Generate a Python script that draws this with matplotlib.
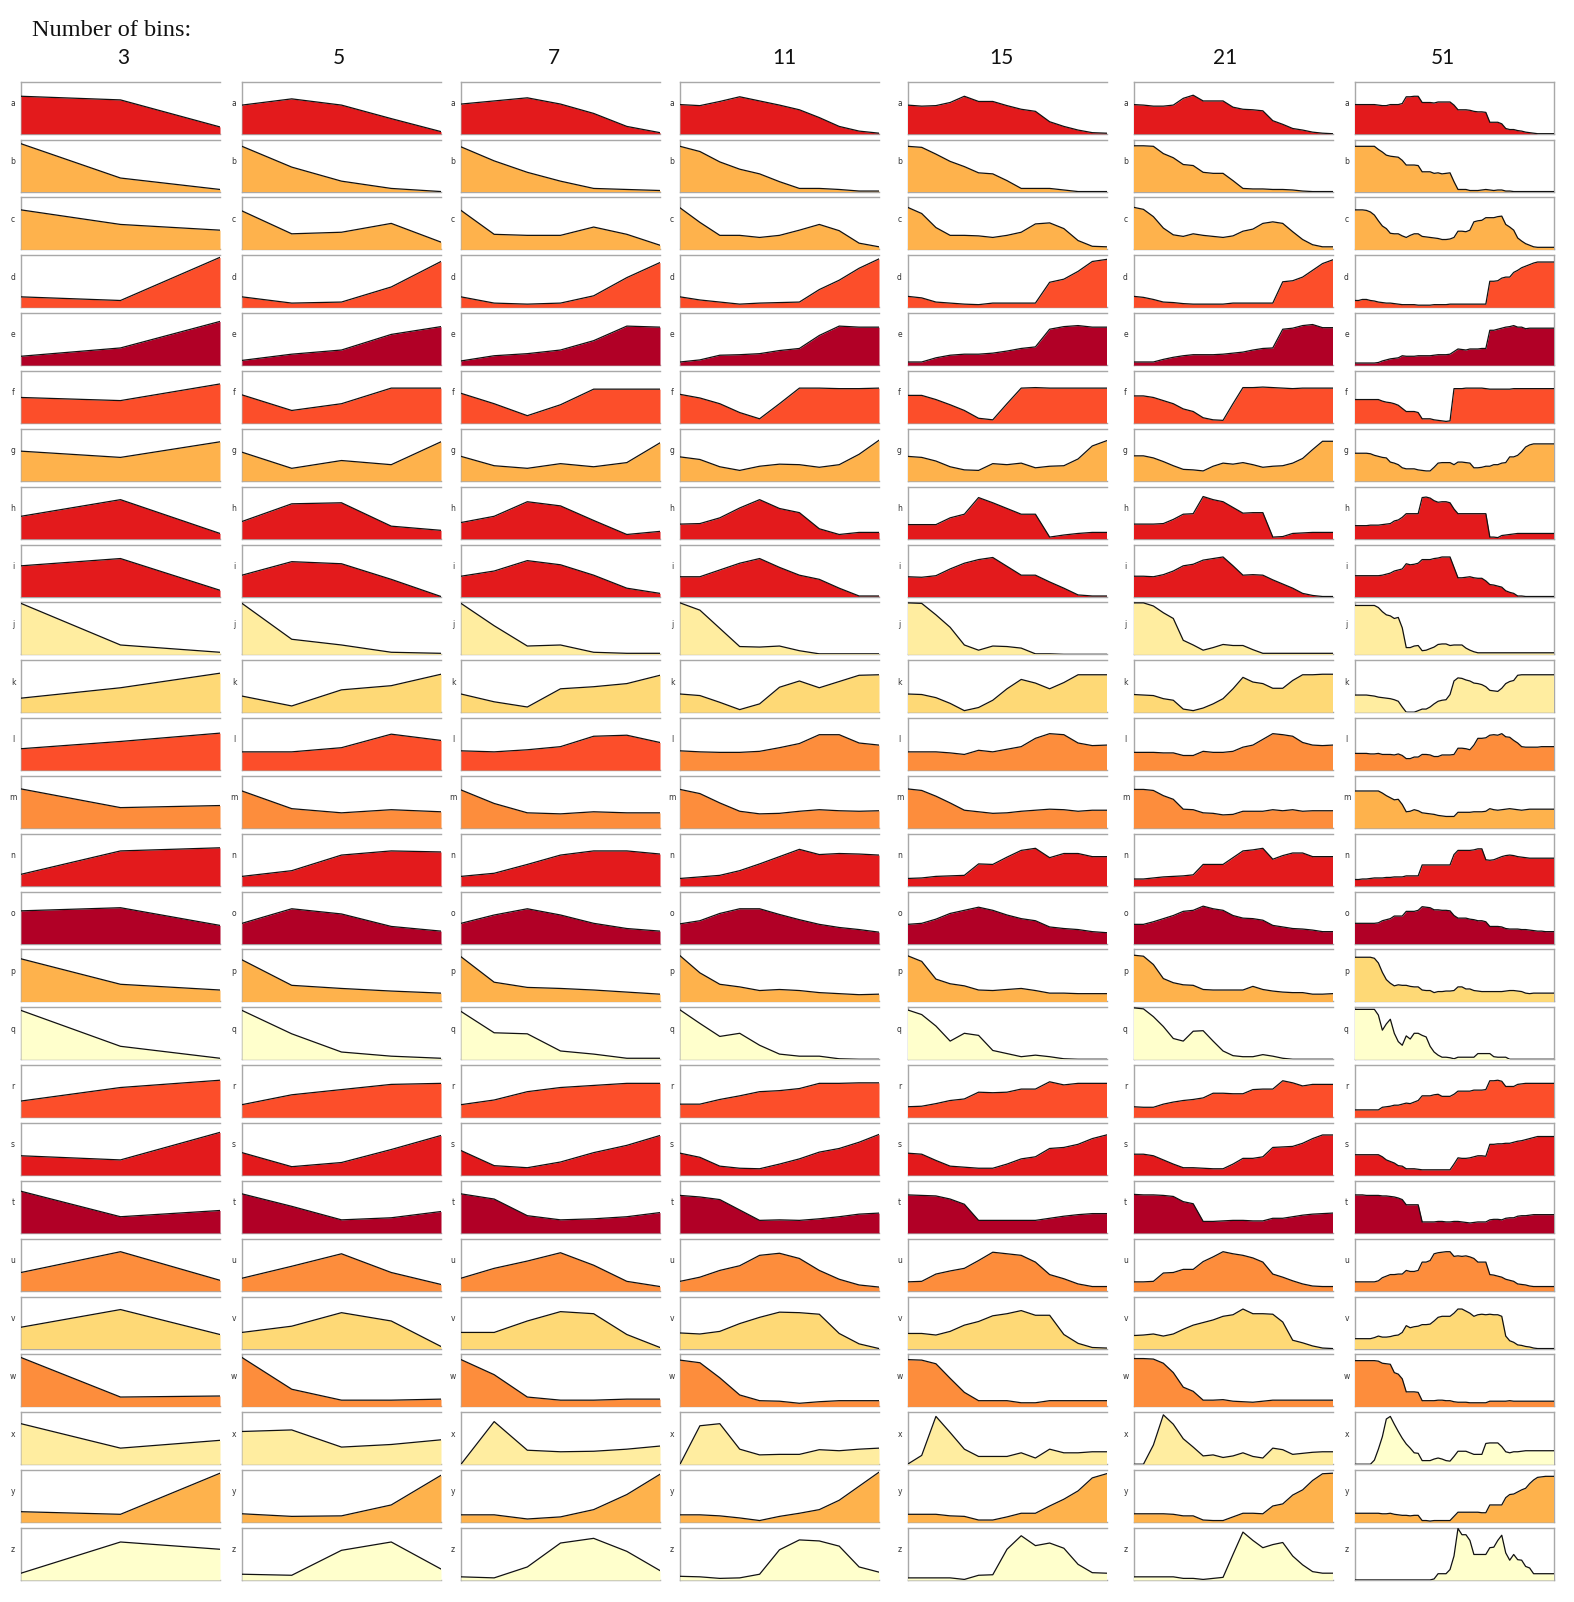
import matplotlib
matplotlib.use("Agg")
import matplotlib.pyplot as plt
import numpy as np

# values are heights in percent of each small panel's height
ROW_LABELS = list("abcdefghijklmnopqrstuvwxyz")
BIN_COUNTS = [3, 5, 7, 11, 15, 21, 51]

BINS_3 = [
    [72, 65, 13], [92, 26, 4], [76, 48, 37], [20, 13, 96], [17, 33, 84],
    [49, 43, 75], [57, 45, 75], [43, 75, 10], [59, 73, 12], [98, 18, 4],
    [27, 47, 75], [41, 55, 71], [75, 39, 43], [22, 67, 73], [63, 69, 35],
    [82, 33, 22], [94, 25, 2], [31, 57, 71], [37, 29, 82], [80, 31, 43],
    [35, 75, 20], [41, 75, 27], [94, 18, 20], [78, 31, 46], [20, 15, 94],
    [13, 73, 59],
]

BINS_5 = [
    [55, 67, 55, 29, 4], [87, 47, 20, 6, 0], [74, 30, 33, 50, 14],
    [20, 8, 10, 39, 88], [9, 21, 29, 59, 74], [54, 24, 37, 67, 67],
    [55, 24, 39, 31, 75], [33, 67, 69, 24, 16], [41, 67, 63, 33, 0],
    [98, 29, 18, 4, 2], [31, 12, 43, 51, 73], [35, 35, 43, 69, 57],
    [71, 37, 29, 35, 31], [18, 29, 59, 67, 65], [39, 67, 57, 33, 24],
    [80, 31, 25, 20, 16], [94, 49, 14, 6, 2], [24, 43, 53, 63, 65],
    [43, 16, 24, 49, 76], [75, 51, 25, 29, 41], [24, 47, 71, 35, 12],
    [31, 43, 69, 53, 4], [94, 33, 12, 12, 14], [63, 66, 33, 38, 47],
    [16, 11, 12, 33, 90], [11, 9, 57, 73, 21],
]

BINS_7 = [
    [57, 63, 69, 57, 39, 14, 2], [86, 59, 37, 20, 6, 4, 2],
    [75, 29, 27, 27, 43, 29, 8], [20, 8, 6, 8, 22, 57, 86],
    [8, 18, 22, 29, 47, 75, 73], [57, 37, 14, 35, 65, 65, 65],
    [47, 29, 24, 33, 27, 35, 73], [31, 43, 71, 63, 35, 8, 14],
    [39, 49, 69, 61, 41, 16, 6], [98, 55, 16, 18, 4, 2, 2],
    [35, 20, 10, 45, 49, 55, 71], [37, 35, 39, 45, 65, 67, 53],
    [73, 47, 29, 27, 31, 29, 29], [18, 24, 41, 59, 67, 67, 61],
    [39, 55, 67, 55, 39, 29, 24], [86, 37, 27, 25, 22, 18, 14],
    [92, 51, 49, 16, 10, 2, 2], [24, 33, 49, 57, 61, 65, 65],
    [47, 18, 14, 25, 43, 57, 76], [75, 65, 33, 25, 27, 31, 39],
    [24, 43, 57, 73, 49, 18, 8], [31, 31, 53, 71, 67, 27, 2],
    [90, 61, 18, 12, 12, 14, 14], [0, 82, 27, 24, 25, 29, 35],
    [14, 14, 6, 10, 24, 53, 92], [6, 4, 25, 71, 80, 55, 18],
]

BINS_11 = [
    [56, 54, 62, 71, 63, 55, 46, 31, 14, 5, 1],
    [87, 77, 57, 43, 34, 19, 6, 6, 4, 1, 1],
    [80, 52, 27, 27, 23, 27, 37, 48, 36, 12, 5],
    [20, 14, 10, 6, 8, 9, 10, 34, 52, 75, 93],
    [6, 10, 19, 20, 22, 28, 32, 57, 75, 73, 73],
    [55, 48, 37, 20, 8, 37, 67, 67, 66, 66, 67],
    [46, 41, 27, 20, 28, 32, 31, 26, 31, 51, 78],
    [28, 29, 40, 59, 75, 58, 50, 19, 8, 12, 12],
    [38, 38, 51, 64, 73, 56, 41, 33, 16, 1, 1],
    [99, 85, 50, 15, 14, 16, 7, 1, 1, 1, 1],
    [35, 32, 19, 5, 16, 48, 60, 47, 59, 71, 72],
    [37, 35, 34, 34, 36, 43, 51, 68, 68, 52, 48],
    [74, 66, 48, 32, 27, 28, 32, 35, 33, 32, 33],
    [14, 17, 20, 29, 42, 56, 70, 60, 62, 61, 59],
    [38, 44, 58, 67, 67, 56, 46, 37, 31, 27, 22],
    [88, 55, 33, 28, 21, 23, 21, 17, 15, 13, 14],
    [95, 69, 44, 50, 27, 10, 6, 6, 1, 0, 0],
    [25, 25, 34, 41, 49, 51, 55, 65, 65, 66, 66],
    [42, 34, 17, 13, 12, 21, 31, 44, 51, 63, 78],
    [72, 69, 64, 44, 24, 25, 24, 27, 31, 36, 38],
    [18, 26, 39, 48, 68, 72, 62, 39, 22, 11, 7],
    [30, 28, 33, 48, 60, 70, 69, 66, 29, 9, 0],
    [89, 84, 55, 22, 11, 10, 6, 9, 11, 11, 11],
    [0, 74, 78, 29, 18, 19, 19, 28, 26, 29, 31],
    [14, 14, 12, 8, 3, 11, 17, 24, 42, 69, 96],
    [7, 6, 3, 4, 11, 58, 77, 75, 65, 25, 15],
]

BINS_15 = [
    [55, 53, 54, 60, 72, 62, 62, 54, 47, 43, 23, 14, 7, 2, 1],
    [87, 85, 72, 58, 48, 36, 34, 21, 6, 6, 6, 3, 0, 0, 0],
    [81, 69, 42, 27, 27, 26, 23, 27, 33, 49, 51, 40, 17, 6, 5],
    [21, 18, 10, 8, 6, 5, 8, 8, 8, 8, 48, 54, 69, 88, 92],
    [6, 6, 14, 19, 21, 21, 23, 27, 32, 35, 69, 74, 76, 73, 73],
    [53, 53, 45, 35, 24, 9, 6, 37, 67, 68, 67, 67, 67, 67, 67],
    [47, 45, 38, 27, 21, 20, 33, 31, 34, 25, 28, 29, 42, 67, 77],
    [27, 27, 27, 40, 47, 79, 69, 58, 47, 47, 3, 7, 10, 12, 12],
    [38, 37, 40, 53, 64, 71, 75, 58, 41, 41, 28, 16, 3, 1, 1],
    [99, 98, 76, 52, 18, 8, 16, 15, 12, 1, 1, 0, 0, 0, 0],
    [35, 34, 28, 17, 3, 9, 23, 45, 63, 56, 45, 57, 72, 72, 72],
    [35, 35, 35, 33, 30, 38, 35, 40, 45, 61, 70, 68, 52, 47, 48],
    [75, 72, 61, 48, 34, 31, 28, 29, 32, 34, 36, 35, 32, 34, 34],
    [14, 15, 18, 19, 20, 42, 41, 55, 68, 72, 54, 62, 62, 56, 56],
    [37, 39, 47, 58, 64, 70, 64, 55, 48, 44, 32, 29, 27, 23, 21],
    [88, 77, 43, 34, 30, 22, 21, 23, 25, 21, 16, 16, 15, 15, 15],
    [95, 86, 64, 35, 50, 46, 17, 11, 5, 8, 5, 1, 0, 0, 0],
    [20, 21, 26, 32, 35, 48, 47, 48, 54, 54, 68, 62, 65, 65, 65],
    [42, 40, 28, 17, 15, 13, 13, 21, 31, 35, 51, 53, 59, 70, 77],
    [73, 72, 71, 65, 55, 24, 24, 24, 24, 24, 28, 32, 35, 37, 37],
    [17, 18, 32, 38, 43, 58, 74, 71, 68, 55, 31, 23, 13, 8, 8],
    [29, 29, 26, 33, 45, 52, 63, 67, 73, 64, 64, 27, 10, 2, 1],
    [90, 89, 82, 54, 27, 11, 11, 11, 7, 7, 11, 11, 11, 11, 11],
    [0, 17, 92, 61, 29, 15, 15, 15, 22, 12, 29, 22, 22, 24, 24],
    [15, 15, 15, 12, 11, 4, 4, 10, 17, 17, 31, 44, 60, 85, 93],
    [4, 4, 4, 4, 1, 9, 10, 59, 85, 66, 71, 61, 30, 14, 13],
]

BINS_21 = [
    [56, 55, 53, 53, 55, 68, 74, 63, 63, 63, 51, 47, 46, 44, 25, 18, 10, 7, 3, 1, 0],
    [88, 88, 87, 73, 65, 52, 50, 37, 35, 35, 21, 6, 5, 5, 4, 4, 3, 1, 0, 0, 0],
    [81, 77, 63, 41, 28, 25, 30, 27, 25, 23, 26, 35, 39, 50, 53, 50, 34, 19, 9, 5, 5],
    [21, 19, 15, 10, 9, 7, 6, 6, 6, 6, 8, 8, 8, 8, 8, 49, 51, 58, 71, 84, 91],
    [6, 6, 6, 11, 15, 18, 20, 20, 20, 21, 23, 25, 29, 32, 33, 69, 71, 76, 78, 72, 72],
    [52, 52, 49, 43, 37, 27, 22, 10, 6, 5, 37, 68, 68, 69, 68, 67, 66, 67, 67, 67, 67],
    [48, 48, 44, 37, 29, 22, 21, 19, 28, 34, 32, 35, 31, 26, 28, 29, 34, 43, 60, 76, 76],
    [28, 28, 28, 29, 37, 47, 48, 81, 75, 71, 60, 49, 50, 50, 3, 4, 10, 11, 12, 12, 12],
    [39, 39, 38, 42, 49, 59, 62, 70, 73, 76, 59, 41, 42, 41, 32, 24, 16, 6, 2, 0, 0],
    [99, 99, 93, 80, 69, 27, 18, 8, 13, 19, 17, 17, 9, 2, 2, 2, 2, 2, 2, 2, 2],
    [34, 33, 32, 26, 23, 6, 3, 8, 16, 26, 45, 67, 58, 55, 46, 46, 61, 72, 72, 73, 73],
    [34, 34, 34, 33, 33, 28, 28, 36, 34, 34, 36, 44, 48, 59, 70, 68, 65, 53, 48, 47, 48],
    [74, 74, 72, 62, 55, 36, 35, 29, 28, 25, 26, 32, 32, 32, 35, 33, 35, 32, 33, 33, 33],
    [13, 13, 15, 17, 18, 19, 21, 41, 41, 41, 54, 67, 69, 72, 51, 58, 63, 63, 56, 56, 56],
    [37, 37, 42, 48, 54, 62, 64, 72, 67, 64, 54, 49, 48, 45, 35, 32, 29, 28, 26, 23, 23],
    [89, 87, 71, 44, 36, 32, 31, 23, 22, 22, 22, 22, 29, 23, 20, 18, 17, 17, 14, 14, 15],
    [99, 97, 82, 63, 40, 35, 54, 55, 35, 16, 7, 5, 5, 9, 6, 2, 0, 0, 0, 0, 0],
    [20, 19, 19, 25, 29, 32, 34, 37, 46, 46, 45, 45, 53, 54, 54, 70, 66, 60, 63, 63, 63],
    [40, 40, 37, 29, 21, 14, 14, 13, 12, 12, 21, 32, 32, 35, 53, 54, 55, 61, 70, 77, 77],
    [74, 73, 73, 72, 70, 60, 56, 22, 22, 23, 24, 24, 23, 23, 28, 28, 31, 34, 36, 37, 38],
    [17, 17, 18, 34, 35, 41, 41, 56, 65, 75, 71, 68, 63, 55, 32, 26, 19, 13, 9, 8, 8],
    [25, 26, 28, 24, 28, 37, 45, 50, 55, 62, 65, 76, 67, 67, 66, 51, 16, 11, 5, 1, 0],
    [92, 92, 91, 83, 65, 37, 29, 12, 12, 13, 10, 9, 8, 10, 12, 12, 12, 12, 12, 12, 12],
    [0, 0, 37, 95, 77, 49, 33, 16, 18, 13, 16, 22, 15, 12, 31, 28, 19, 21, 23, 24, 24],
    [16, 16, 16, 16, 15, 12, 12, 4, 3, 3, 10, 17, 17, 16, 31, 35, 52, 62, 80, 93, 94],
    [6, 6, 6, 6, 6, 3, 3, 1, 3, 5, 49, 92, 76, 62, 68, 72, 46, 29, 16, 13, 13],
]

BINS_51 = [
    [56, 56, 56, 56, 56, 56, 55, 54, 54, 56, 56, 56, 58, 71, 71, 72, 72, 60, 60, 60,
     59, 61, 61, 61, 61, 55, 46, 46, 46, 45, 43, 42, 42, 41, 22, 22, 22, 19, 10, 8,
     8, 6, 5, 3, 2, 1, 0, 0, 0, 0, 0],
    [87, 87, 87, 87, 87, 87, 81, 76, 70, 68, 67, 66, 60, 51, 51, 51, 50, 38, 38, 38,
     35, 36, 34, 35, 36, 19, 4, 4, 4, 2, 2, 2, 3, 4, 3, 2, 3, 3, 1, 1,
     0, 0, 0, 0, 0, 0, 0, 0, 0, 0, 0],
    [76, 76, 76, 75, 72, 66, 55, 45, 40, 31, 30, 30, 26, 23, 27, 30, 30, 25, 24, 23,
     22, 21, 19, 19, 20, 23, 35, 35, 34, 37, 53, 55, 56, 61, 61, 61, 63, 64, 48, 43,
     37, 22, 16, 11, 8, 5, 4, 4, 4, 4, 4],
    [13, 13, 15, 15, 13, 12, 10, 9, 8, 8, 7, 6, 5, 5, 5, 5, 4, 4, 4, 4,
     5, 5, 5, 5, 6, 6, 6, 6, 6, 6, 6, 6, 6, 6, 50, 50, 51, 56, 58, 58,
     67, 71, 76, 79, 82, 85, 87, 87, 87, 87, 87],
    [4, 4, 4, 4, 4, 4, 5, 8, 10, 12, 13, 14, 18, 17, 17, 17, 18, 18, 18, 18,
     19, 20, 20, 20, 21, 26, 31, 30, 29, 31, 31, 31, 32, 32, 67, 67, 69, 71, 73, 74,
     76, 73, 73, 70, 71, 71, 71, 71, 71, 71, 71],
    [45, 45, 45, 45, 45, 45, 45, 42, 40, 39, 37, 34, 28, 22, 22, 22, 20, 8, 8, 8,
     6, 5, 4, 3, 4, 66, 66, 66, 67, 67, 67, 67, 67, 66, 65, 65, 65, 65, 65, 65,
     66, 66, 66, 66, 66, 66, 66, 66, 66, 66, 66],
    [53, 53, 53, 53, 52, 49, 47, 45, 44, 36, 34, 31, 25, 23, 23, 23, 21, 20, 19, 19,
     26, 34, 35, 35, 35, 31, 36, 36, 35, 34, 25, 25, 26, 28, 28, 31, 31, 34, 35, 46,
     46, 49, 56, 65, 69, 71, 71, 71, 71, 71, 71],
    [25, 25, 25, 25, 26, 26, 26, 27, 28, 29, 34, 36, 41, 48, 48, 48, 48, 79, 80, 78,
     73, 70, 71, 71, 69, 57, 48, 48, 48, 48, 48, 48, 48, 48, 3, 3, 2, 6, 7, 8,
     9, 10, 10, 10, 10, 10, 10, 10, 10, 10, 10],
    [40, 40, 40, 40, 40, 40, 40, 41, 43, 45, 49, 51, 53, 63, 61, 62, 64, 71, 71, 71,
     73, 74, 76, 76, 76, 56, 36, 36, 37, 38, 36, 35, 35, 30, 23, 22, 20, 18, 11, 8,
     6, 1, 1, 0, 0, 0, 0, 0, 0, 0, 0],
    [94, 94, 94, 94, 94, 94, 90, 82, 76, 74, 69, 71, 51, 13, 13, 16, 17, 7, 8, 11,
     14, 19, 20, 20, 17, 18, 18, 18, 12, 8, 5, 3, 3, 3, 3, 3, 3, 3, 3, 3,
     3, 3, 3, 3, 3, 3, 3, 3, 3, 3, 3],
    [33, 33, 33, 33, 32, 31, 29, 28, 27, 26, 24, 21, 10, 0, 0, 0, 3, 6, 6, 10,
     16, 21, 23, 24, 34, 60, 66, 65, 62, 60, 56, 55, 53, 49, 42, 41, 40, 46, 55, 59,
     61, 71, 72, 72, 72, 72, 72, 72, 72, 72, 72],
    [32, 32, 32, 32, 31, 31, 32, 30, 30, 30, 29, 31, 28, 22, 22, 25, 25, 30, 30, 29,
     26, 26, 29, 29, 29, 30, 42, 42, 41, 39, 48, 61, 61, 62, 67, 68, 67, 70, 64, 63,
     57, 52, 45, 44, 44, 44, 44, 45, 45, 45, 45],
    [71, 71, 71, 71, 71, 71, 71, 67, 62, 58, 54, 55, 45, 31, 32, 35, 33, 29, 28, 27,
     26, 24, 23, 22, 22, 22, 30, 30, 30, 30, 31, 31, 31, 32, 37, 35, 34, 35, 36, 37,
     36, 35, 34, 35, 36, 36, 36, 36, 36, 36, 36],
    [12, 12, 13, 13, 14, 15, 15, 15, 16, 16, 17, 17, 17, 19, 19, 19, 19, 40, 40, 40,
     40, 40, 40, 40, 40, 60, 68, 68, 68, 68, 69, 71, 71, 50, 49, 50, 53, 56, 58, 59,
     58, 56, 55, 54, 53, 53, 53, 53, 53, 53, 53],
    [39, 39, 39, 39, 39, 39, 40, 44, 46, 48, 53, 53, 53, 62, 62, 62, 64, 71, 70, 69,
     65, 65, 64, 64, 63, 54, 49, 49, 49, 47, 46, 44, 44, 42, 33, 33, 33, 32, 29, 28,
     28, 28, 27, 27, 26, 25, 24, 24, 23, 23, 23],
    [85, 85, 85, 85, 85, 83, 74, 56, 42, 35, 30, 32, 31, 31, 29, 28, 28, 22, 21, 21,
     17, 19, 19, 20, 20, 21, 28, 28, 24, 24, 21, 20, 19, 19, 19, 19, 19, 19, 20, 21,
     21, 20, 19, 16, 15, 16, 16, 16, 16, 16, 16],
    [96, 96, 96, 96, 96, 96, 85, 56, 68, 77, 50, 34, 27, 45, 39, 50, 50, 46, 43, 25,
     14, 8, 4, 4, 3, 1, 4, 4, 4, 4, 4, 11, 11, 11, 11, 5, 4, 4, 4, 0,
     0, 0, 0, 0, 0, 0, 0, 0, 0, 0, 0],
    [14, 14, 14, 14, 14, 14, 14, 19, 20, 21, 23, 23, 25, 27, 26, 29, 32, 41, 41, 41,
     43, 44, 40, 40, 40, 44, 50, 50, 50, 50, 52, 52, 52, 53, 70, 70, 71, 69, 59, 59,
     59, 63, 64, 65, 65, 65, 65, 65, 65, 65, 65],
    [39, 39, 39, 39, 39, 39, 39, 35, 29, 26, 23, 18, 17, 12, 12, 12, 11, 10, 10, 10,
     10, 10, 10, 10, 10, 21, 33, 32, 32, 33, 35, 37, 37, 36, 59, 59, 60, 60, 61, 61,
     63, 65, 66, 68, 70, 72, 74, 74, 74, 74, 74],
    [73, 73, 73, 72, 72, 72, 72, 71, 71, 70, 69, 67, 64, 54, 54, 54, 54, 21, 21, 21,
     21, 22, 22, 21, 21, 22, 22, 21, 20, 19, 20, 21, 21, 21, 25, 26, 26, 25, 28, 29,
     29, 32, 33, 33, 34, 35, 35, 35, 35, 35, 35],
    [17, 17, 17, 17, 17, 17, 19, 25, 28, 31, 31, 32, 32, 39, 37, 37, 39, 55, 55, 58,
     71, 73, 74, 75, 75, 66, 67, 66, 67, 65, 62, 55, 55, 55, 31, 30, 28, 26, 22, 20,
     18, 13, 12, 11, 9, 8, 8, 8, 8, 8, 8],
    [19, 19, 19, 19, 19, 21, 24, 22, 22, 23, 25, 26, 31, 44, 40, 42, 43, 46, 46, 47,
     53, 60, 62, 62, 62, 68, 76, 76, 72, 68, 62, 65, 66, 65, 66, 65, 65, 62, 24, 15,
     12, 7, 6, 4, 3, 1, 0, 0, 0, 0, 0],
    [88, 88, 88, 88, 88, 88, 87, 83, 82, 81, 65, 62, 53, 28, 28, 28, 27, 11, 11, 11,
     11, 12, 12, 11, 11, 9, 8, 8, 8, 7, 7, 7, 7, 7, 10, 10, 10, 10, 10, 11,
     10, 10, 10, 10, 10, 10, 10, 10, 10, 10, 10],
    [0, 0, 0, 0, 0, 8, 29, 53, 87, 92, 77, 63, 50, 39, 31, 22, 21, 7, 7, 7,
     10, 12, 10, 7, 6, 15, 25, 25, 25, 22, 19, 19, 19, 40, 41, 41, 41, 34, 24, 22,
     24, 24, 25, 26, 26, 26, 26, 26, 26, 26, 26],
    [17, 17, 17, 17, 17, 17, 17, 16, 16, 17, 15, 14, 13, 13, 12, 13, 13, 3, 3, 2,
     3, 3, 3, 3, 3, 11, 19, 19, 19, 19, 19, 19, 18, 18, 33, 33, 33, 33, 47, 53,
     54, 58, 62, 65, 74, 81, 86, 87, 88, 88, 88],
    [0, 0, 0, 0, 0, 0, 0, 0, 0, 0, 0, 0, 0, 0, 0, 0, 0, 0, 0, 0,
     2, 12, 12, 12, 20, 46, 99, 87, 87, 76, 49, 49, 49, 49, 62, 63, 76, 86, 52, 38,
     49, 39, 38, 26, 23, 12, 12, 12, 12, 12, 12],
]

ALL_BINS = [BINS_3, BINS_5, BINS_7, BINS_11, BINS_15, BINS_21, BINS_51]

# YlOrRd, 8 classes
PALETTE = ['#ffffcc', '#ffeda0', '#fed976', '#feb24c',
           '#fd8d3c', '#fc4e2a', '#e31a1c', '#b10026']
ROW_SHADE = [6, 3, 3, 5, 7, 5, 3, 6, 6, 1, 2, 5, 4, 6, 7, 3, 0, 5, 6, 7, 4, 2, 4, 1, 3, 0]
SHADE_OVERRIDES = {
    ('k', 51): 1,
    ('l', 11): 4, ('l', 15): 4, ('l', 21): 4, ('l', 51): 4,
    ('m', 51): 3,
    ('p', 51): 2,
    ('x', 51): 0,
}

W, H = 1574, 1602
COL_LEFT = [21, 242, 461, 680, 907.5, 1133.5, 1354.5]
TITLE_X = [123.6, 339, 553.6, 784.5, 1001, 1225.5, 1443]
COL_W = 199
ROW_TOP0 = 81.7
ROW_PITCH = 57.85
ROW_H = 52
SPINE = '#a8a8a8'

fig = plt.figure(figsize=(W / 100, H / 100), dpi=100)
fig.patch.set_facecolor('white')

fig.text(32 / W, 1 - 30 / H, 'Number of bins:', family='Liberation Serif',
         fontsize=17.5, ha='left', va='center', color='#111111')

for c, (n, col_data) in enumerate(zip(BIN_COUNTS, ALL_BINS)):
    left = COL_LEFT[c]
    fig.text(TITLE_X[c] / W, 1 - 58.5 / H, str(n), family='Lato',
             fontsize=15, ha='center', va='center', color='#111111')
    for r, label in enumerate(ROW_LABELS):
        top = ROW_TOP0 + ROW_PITCH * r
        ax = fig.add_axes([left / W, 1 - (top + ROW_H) / H, COL_W / W, ROW_H / H])
        vals = np.array(col_data[r], dtype=float)
        x = np.arange(len(vals))
        shade = SHADE_OVERRIDES.get((label, n), ROW_SHADE[r])
        ax.fill_between(x, vals, 0, color=PALETTE[shade], lw=0, zorder=1)
        ax.plot(x, vals, color='#111111', lw=0.9, zorder=2,
                solid_joinstyle='round')
        ax.set_xlim(0, len(vals) - 1)
        ax.set_ylim(0, 100)
        ax.set_xticks([])
        ax.set_yticks([])
        for side, sp in ax.spines.items():
            sp.set_color(SPINE)
            sp.set_linewidth(1.0)
            sp.set_zorder(0)
        if c != len(BIN_COUNTS) - 1:
            ax.spines['right'].set_visible(False)
        ax.text(-0.04, 0.58, label, transform=ax.transAxes, ha='center',
                va='center', fontsize=5.5, color='#333333')

fig.savefig('out.png', dpi=100, facecolor='white')
